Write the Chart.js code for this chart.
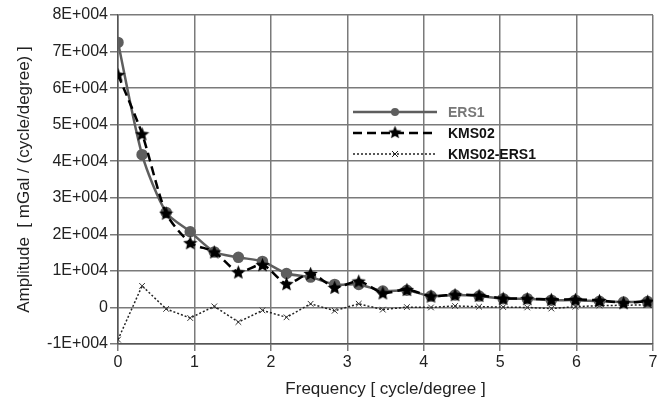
<!DOCTYPE html>
<html>
<head>
<meta charset="utf-8">
<script src="https://cdn.jsdelivr.net/npm/chart.js@4"></script>
<style>
  body { margin: 0; background: #fff; }
  canvas { display: block; }
</style>
</head>
<body>
<canvas id="myChart" width="666" height="403"></canvas>
<script>
// frequency [cycle/degree]
var freq = [0, 0.315, 0.63, 0.945, 1.26, 1.575, 1.89, 2.205, 2.52, 2.835, 3.15, 3.465,
            3.78, 4.095, 4.41, 4.725, 5.04, 5.355, 5.67, 5.985, 6.3, 6.615, 6.93];
var ers1 = [72500, 41800, 26000, 20700, 15200, 13700, 12600, 9300, 8300, 6300, 6300, 4500,
            4700, 3100, 3400, 3100, 2400, 2400, 2000, 2000, 1700, 1500, 1600];
var kms02 = [63700, 47500, 25800, 17700, 15200, 9700, 11700, 6500, 9300, 5500, 7200, 4000,
             4900, 3100, 3500, 3300, 2500, 2400, 2200, 2200, 1900, 1300, 1700];
var diff = [-8800, 5900, -400, -2900, 300, -4000, -800, -2700, 1000, -900, 1000, -600,
            100, 0, 400, 200, 100, 0, -300, 200, 500, 600, 700];
var labels = ['ERS1', 'KMS02', 'KMS02-ERS1'];

function pts(ys) {
  return ys.map(function (y, i) { return { x: freq[i], y: y }; });
}

// filled 5-point star for KMS02 markers
function makeStar(size) {
  var c = document.createElement('canvas');
  c.width = size; c.height = size;
  var g = c.getContext('2d');
  var cx = size / 2, cy = size / 2 + 0.8, R = size / 2, r = R * 0.45;
  g.beginPath();
  for (var i = 0; i < 10; i++) {
    var a = -Math.PI / 2 + i * Math.PI / 5;
    var rr = i % 2 ? r : R;
    g.lineTo(cx + rr * Math.cos(a), cy + rr * Math.sin(a));
  }
  g.closePath();
  g.fillStyle = '#000';
  g.fill();
  return c;
}
var star = makeStar(15);

var gridColor = '#7a7a7a';
var font = "'Liberation Sans', Arial, sans-serif";

// legend drawn inside the plot area
var innerLegend = {
  id: 'innerLegend',
  afterDatasetsDraw: function (chart) {
    var ctx = chart.ctx;
    var x0 = 353, x1 = 437, tx = 448;
    var rows = [112, 133, 154];
    ctx.save();
    ctx.font = 'bold 14px ' + font;
    ctx.textBaseline = 'middle';
    chart.data.datasets.forEach(function (ds, i) {
      var y = rows[i];
      ctx.beginPath();
      ctx.setLineDash(ds.borderDash || []);
      ctx.lineWidth = ds.borderWidth;
      ctx.strokeStyle = ds.borderColor;
      ctx.moveTo(x0, y); ctx.lineTo(x1, y);
      ctx.stroke();
      ctx.setLineDash([]);
      var mx = (x0 + x1) / 2;
      if (ds.pointStyle === 'circle') {
        ctx.beginPath();
        ctx.fillStyle = ds.pointBackgroundColor;
        ctx.arc(mx, y, 4, 0, Math.PI * 2);
        ctx.fill();
      } else if (ds.pointStyle === 'crossRot') {
        ctx.beginPath();
        ctx.lineWidth = 1;
        ctx.moveTo(mx - 3, y - 3); ctx.lineTo(mx + 3, y + 3);
        ctx.moveTo(mx + 3, y - 3); ctx.lineTo(mx - 3, y + 3);
        ctx.stroke();
      } else {
        ctx.drawImage(ds.pointStyle, mx - 7, y - 8, 14, 14);
      }
      ctx.fillStyle = i === 0 ? '#777' : '#111';
      ctx.fillText(ds.label, tx, y + 1);
    });
    ctx.restore();
  }
};

var ctx = document.getElementById('myChart').getContext('2d');
var myChart = new Chart(ctx, {
  type: 'line',
  data: {
    datasets: [{
      label: labels[0],
      data: pts(ers1),
      borderColor: '#5e5e5e',
      borderWidth: 2.5,
      tension: 0.25,
      pointStyle: 'circle',
      pointRadius: 4.5,
      pointBackgroundColor: '#5e5e5e',
      pointBorderColor: '#5e5e5e',
      order: 2
    }, {
      label: labels[1],
      data: pts(kms02),
      borderColor: '#000',
      borderWidth: 2.5,
      borderDash: [9, 5],
      tension: 0.25,
      pointStyle: star,
      order: 1
    }, {
      label: labels[2],
      data: pts(diff),
      borderColor: '#222',
      borderWidth: 1.5,
      borderDash: [2, 2],
      pointStyle: 'crossRot',
      pointRadius: 4,
      pointBorderWidth: 1,
      pointBorderColor: '#333',
      order: 3
    }]
  },
  plugins: [innerLegend],
  options: {
    responsive: false,
    animation: false,
    layout: { padding: { top: 15, right: 13, left: 0, bottom: 0 } },
    elements: { line: { fill: false } },
    plugins: {
      legend: { display: false },
      tooltip: { enabled: false }
    },
    scales: {
      x: {
        type: 'linear',
        min: 0,
        max: 7,
        ticks: { stepSize: 1, color: '#222', padding: 2, font: { family: font, size: 16 } },
        grid: { color: gridColor, lineWidth: 1.5, tickLength: 7 },
        border: { color: '#555', width: 1.5 },
        title: {
          display: true,
          text: 'Frequency [ cycle/degree ]',
          color: '#222',
          font: { family: font, size: 17 },
          padding: { top: 0, bottom: 3 }
        },
        afterFit: function (s) { s.height = 59; }
      },
      y: {
        min: -10000,
        max: 80000,
        ticks: {
          stepSize: 10000,
          color: '#222',
          padding: 2,
          font: { family: font, size: 16 },
          callback: function (v) { return v === 0 ? '0' : (v / 10000) + 'E+004'; }
        },
        grid: { color: gridColor, lineWidth: 1.5, tickLength: 8 },
        border: { color: '#555', width: 1.5 },
        title: {
          display: true,
          text: 'Amplitude  [ mGal / (cycle/degree) ]',
          color: '#222',
          font: { family: font, size: 17 },
          padding: { top: 14, bottom: 0 }
        },
        afterFit: function (s) { s.width = 118; }
      }
    }
  }
});
</script>
</body>
</html>
